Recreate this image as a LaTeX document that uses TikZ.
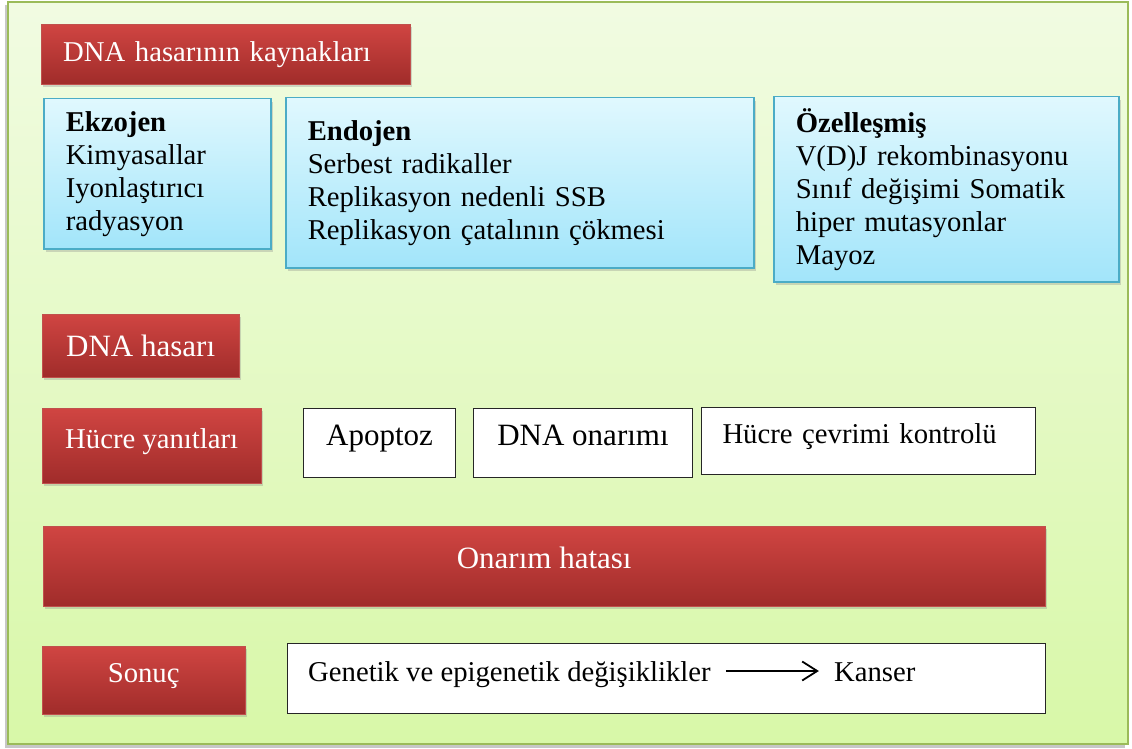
\documentclass[tikz,border=0pt]{standalone}
\usepackage{fontspec}
\setmainfont{Liberation Serif}
\usepackage{tikz}
\usetikzlibrary{arrows.meta,positioning,shadows}
\definecolor{DamageRed}{HTML}{D04542}
\definecolor{DamageRedDark}{HTML}{A02C2A}
\definecolor{DamageRedLine}{HTML}{C0504D}
\definecolor{SourceBlue}{HTML}{E0F8FE}
\definecolor{SourceBlueDark}{HTML}{A2E5FA}
\definecolor{SourceBlueLine}{HTML}{4BACC6}
\definecolor{PanelGreen}{HTML}{F1FBE2}
\definecolor{PanelGreenDark}{HTML}{D8F8A8}
\definecolor{PanelLine}{HTML}{9BBB59}
\newcommand{\txtfont}{\fontsize{28.7pt}{33pt}\selectfont}
\newcommand{\bigtxtfont}{\fontsize{31pt}{35pt}\selectfont}
\tikzset{
  redbox/.style={rectangle,draw=DamageRedLine,top color=DamageRed,bottom color=DamageRedDark,text=white,font=\txtfont,anchor=north west,drop shadow={shadow xshift=2pt,shadow yshift=-3pt,opacity=0.3}},
  bluebox/.style={rectangle,draw=SourceBlueLine,line width=1.5pt,top color=SourceBlue,bottom color=SourceBlueDark,font=\txtfont,align=left,anchor=north west,inner xsep=22pt,drop shadow={shadow xshift=2pt,shadow yshift=-3pt,opacity=0.3}},
  whitebox/.style={rectangle,draw=black!85,fill=white,line width=1pt,font=\txtfont,anchor=north west},
  lifted/.style={text height=25pt,text depth=20pt,inner ysep=0pt},
  plaintext/.style={font=\txtfont,inner xsep=15pt,inner ysep=0pt,text height=20pt,text depth=0pt},
  arrow/.style={-{Straight Barb[length=15pt,width=19pt]},line width=1.8pt},
}
\begin{document}
\begin{tikzpicture}[x=1pt,y=-1pt]
  \useasboundingbox (0,0) rectangle (1132,749);
  \fill[black!22] (5,5) rectangle (1125,748);
  \shade[top color=PanelGreen,bottom color=PanelGreenDark,draw=PanelLine,line width=2pt] (8,2) rectangle (1128,744);

  \node[redbox, minimum width=369pt, minimum height=60pt, inner xsep=22pt, text width=325pt, align=left] (kaynak) at (41,24) {DNA hasarının kaynakları};

  \node[bluebox, minimum width=227pt, minimum height=150pt, text width=183pt] (ekzojen) at (43,98) {\textbf{Ekzojen}\\Kimyasallar\\Iyonlaştırıcı\\radyasyon};
  \node[bluebox, minimum width=468pt, minimum height=170pt, text width=424pt] (endojen) at (285,97) {\textbf{Endojen}\\Serbest radikaller\\Replikasyon nedenli SSB\\Replikasyon çatalının çökmesi};
  \node[bluebox, minimum width=345pt, minimum height=185pt, text width=301pt] (ozel) at (773,96) {\textbf{Özelleşmiş}\\V(D)J rekombinasyonu\\Sınıf değişimi Somatik\\hiper mutasyonlar\\Mayoz};

  \node[redbox, font=\bigtxtfont, minimum width=197pt, minimum height=63pt] (hasar) at (42,314) {DNA hasarı};

  \node[redbox, lifted, minimum width=219pt, minimum height=75pt] (hucre) at (42,408) {Hücre yanıtları};
  \node[whitebox, lifted, font=\bigtxtfont, minimum width=152pt, minimum height=69pt] (apoptoz) at (303,408) {Apoptoz};
  \node[whitebox, lifted, font=\bigtxtfont, minimum width=219pt, minimum height=69pt] (onarim) at (473,408) {DNA onarımı};
  \node[whitebox, lifted, minimum width=334pt, minimum height=67pt, inner xsep=21pt, text width=292pt, align=left] (kontrol) at (701,407) {Hücre çevrimi kontrolü};

  \node[redbox, lifted, font=\bigtxtfont, minimum width=1002pt, minimum height=80pt] (hata) at (43,526) {Onarım hatası};

  \node[redbox, lifted, minimum width=203pt, minimum height=68pt] (sonuc) at (42,646) {Sonuç};
  \node[whitebox, minimum width=758pt, minimum height=70pt] (sonucbox) at (287,643) {};
  \node[plaintext, anchor=base west] (genetik) at (293,681) {Genetik ve epigenetik değişiklikler};
  \node[plaintext, right=93pt of genetik] (kanser) {Kanser};

  \draw[arrow] (genetik) -- (kanser);
\end{tikzpicture}
\end{document}
